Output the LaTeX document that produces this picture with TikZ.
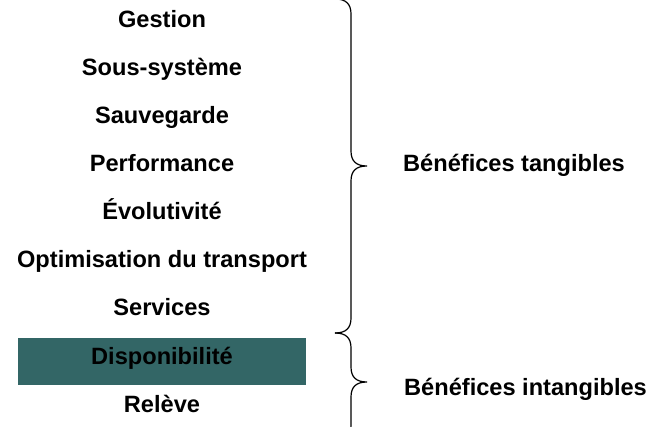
\documentclass[tikz,border=0pt]{standalone}
\usepackage{fontspec}
\setmainfont{Liberation Sans}
\definecolor{boxteal}{RGB}{51,102,102}
\newcommand*{\lead }{48}
\newcommand*{\bx   }{335}
% brace from #1 (top) to #3 (bottom), tip at #2
\newcommand*{\curly}[3]{%
	\draw [brace line] (\bx,#1) .. controls (\bx+11,#1) and (\bx+16,#1+5) .. (\bx+16,#1+15)
		-- (\bx+16,#2-15) .. controls (\bx+16,#2-5) and (\bx+21,#2) .. (\bx+32,#2)
		.. controls (\bx+21,#2) and (\bx+16,#2+5) .. (\bx+16,#2+15)
		-- (\bx+16,#3-15) .. controls (\bx+16,#3-5) and (\bx+11,#3) .. (\bx,#3);
	}
\tikzset{
	item/.style={
		anchor = base,
		inner sep = 0pt,
		font = \fontsize{23.6}{28}\selectfont\bfseries,
		},
	brace line/.style={
		black,
		line width = 1.2pt,
		}
	}
\begin{document}
\begin{tikzpicture}[x=1pt,y=-1pt]
	\useasboundingbox (0,0) rectangle (650,427);
	\fill [boxteal] (18,338) rectangle (306,385);
	\foreach \txt [count=\i from 0] in {Gestion,Sous-système,Sauvegarde,Performance,%
			Évolutivité,Optimisation du transport,Services,Disponibilité,Relève} {
		\node (b\i) [item] at (162,28+\i*\lead) {\txt};
	};
	\curly{-1}{166}{333}
	\curly{333}{382}{440}
	\node (tang)   [item, anchor=base west] at (403,172) {Bénéfices tangibles};
	\node (intang) [item, anchor=base west] at (404,395) {Bénéfices intangibles};
\end{tikzpicture}
\end{document}
